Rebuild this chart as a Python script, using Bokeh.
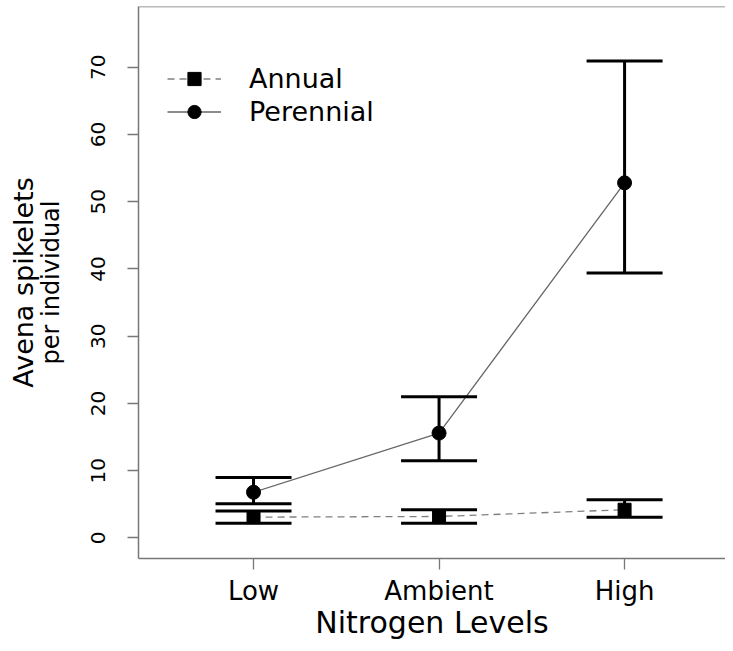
import numpy as np
from bokeh.plotting import figure
from bokeh.models import (Range1d, FixedTicker, ColumnDataSource, Whisker, TeeHead,
                          Span, Legend, LegendItem, LinearAxis)
from bokeh.embed import file_html
from bokeh.resources import INLINE

# ---- data ----
categories = ["Low", "Ambient", "High"]
annual_mean = [3.1, 3.2, 4.2]
annual_upper = [4.0, 4.2, 5.7]
annual_lower = [2.2, 2.2, 3.1]
perennial_mean = [6.8, 15.6, 52.8]
perennial_upper = [9.0, 21.0, 70.9]
perennial_lower = [5.1, 11.5, 39.4]
y_ticks = [0, 10, 20, 30, 40, 50, 60, 70]

x = list(range(1, len(categories) + 1))

FONT = "DejaVu Sans"
AX = "#777777"
Y_START, Y_END = -3.05, 79.02

p = figure(width=725, height=643,
           x_range=Range1d(0.38, 3.544), y_range=Range1d(Y_START, Y_END),
           output_backend="svg", toolbar_location=None,
           min_border_left=138, min_border_right=0, min_border_top=6, min_border_bottom=85)
p.outline_line_color = None
p.xgrid.visible = False
p.ygrid.visible = False
p.background_fill_color = "white"
p.border_fill_color = "white"

# connecting lines
l_p = p.line(x, perennial_mean, line_color="#666666", line_width=1.3)
l_a = p.line(x, annual_mean, line_color="#808080", line_width=1.3, line_dash="7 5")

# error bars
src_p = ColumnDataSource(dict(x=x, upper=perennial_upper, lower=perennial_lower))
src_a = ColumnDataSource(dict(x=x, upper=annual_upper, lower=annual_lower))
for src in (src_p, src_a):
    w = Whisker(source=src, base="x", upper="upper", lower="lower", dimension="height",
                line_width=3, line_color="black", level="glyph",
                upper_head=TeeHead(size=76, line_width=3, line_color="black"),
                lower_head=TeeHead(size=76, line_width=3, line_color="black"))
    p.add_layout(w)

# points
s_p = p.scatter(x, perennial_mean, marker="circle", size=14, color="black")
s_a = p.scatter(x, annual_mean, marker="square", size=13, color="black")

# top border line of the box
p.add_layout(Span(location=Y_END, dimension="width", line_color=AX, line_width=1.5))

# legend
legend = Legend(items=[LegendItem(label="Annual", renderers=[l_a, s_a]),
                       LegendItem(label="Perennial", renderers=[l_p, s_p])],
                location=(29, 430.5), padding=0, margin=0, spacing=0,
                glyph_width=54, glyph_height=33, label_standoff=28,
                label_text_font=FONT, label_text_font_size="27px", label_text_color="black",
                background_fill_alpha=0, border_line_color=None)
p.add_layout(legend)

# x axis
p.xaxis.ticker = FixedTicker(ticks=x)
p.xaxis.major_label_overrides = {xi: c for xi, c in zip(x, categories)}
p.xaxis.major_label_text_font = FONT
p.xaxis.major_label_text_font_size = "26px"
p.xaxis.major_label_text_color = "black"
p.xaxis.major_label_standoff = 6
p.xaxis.axis_label = "Nitrogen Levels"
p.xaxis.axis_label_text_font = FONT
p.xaxis.axis_label_text_font_size = "30px"
p.xaxis.axis_label_text_font_style = "normal"
p.xaxis.axis_label_text_color = "black"
p.xaxis.axis_label_standoff = -4

# y axis (inner title line "per individual")
p.yaxis.ticker = FixedTicker(ticks=y_ticks)
p.yaxis.major_label_orientation = "vertical"
p.yaxis.major_label_text_font = FONT
p.yaxis.major_label_text_font_size = "20px"
p.yaxis.major_label_text_color = "black"
p.yaxis.major_label_standoff = 22
p.yaxis.axis_label = "per individual"
p.yaxis.axis_label_text_font = FONT
p.yaxis.axis_label_text_font_size = "24px"
p.yaxis.axis_label_text_font_style = "normal"
p.yaxis.axis_label_text_color = "black"
p.yaxis.axis_label_standoff = 24

for ax in (p.xaxis, p.yaxis):
    ax.axis_line_color = AX
    ax.axis_line_width = 1.5
    ax.major_tick_line_color = AX
    ax.major_tick_line_width = 1.3
    ax.major_tick_out = 11
    ax.major_tick_in = 0
    ax.minor_tick_out = 0
    ax.minor_tick_in = 0

# outer title line "Avena spikelets" as a tick-less extra axis
outer = LinearAxis(ticker=FixedTicker(ticks=[]), axis_line_color=None,
                   major_tick_line_color=None, minor_tick_line_color=None,
                   major_label_text_font_size="0px",
                   axis_label="Avena spikelets", axis_label_text_font=FONT,
                   axis_label_text_font_size="27px", axis_label_text_font_style="normal",
                   axis_label_text_color="black", axis_label_standoff=-5)
p.add_layout(outer, "left")

open("out.html", "w").write(file_html(p, INLINE))
